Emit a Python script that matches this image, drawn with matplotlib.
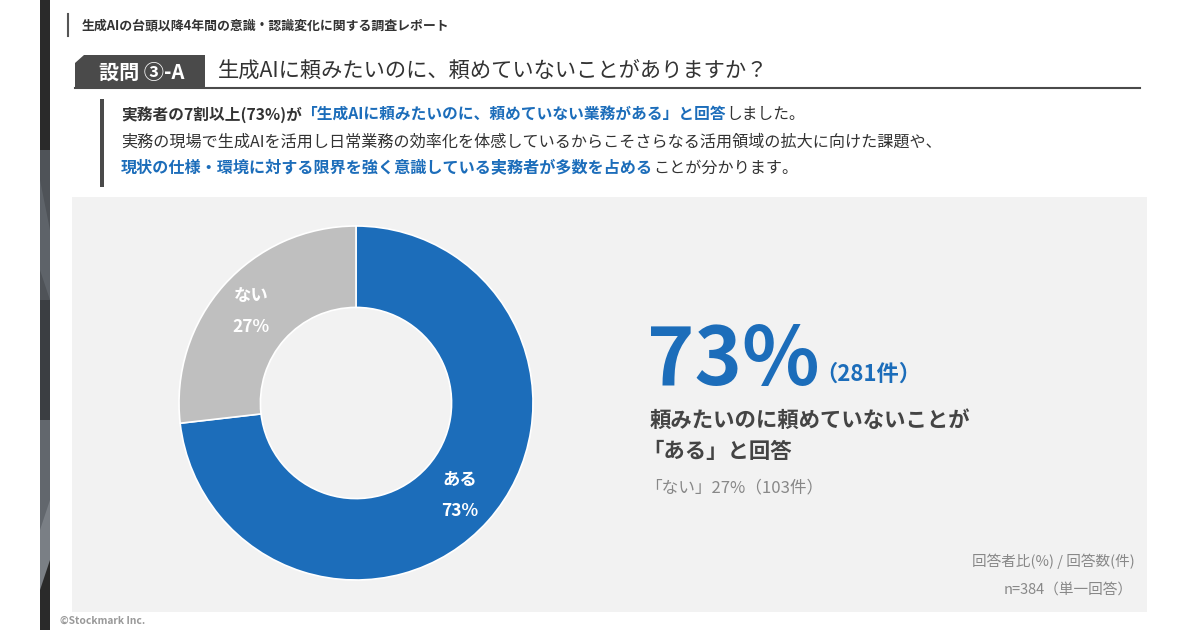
import matplotlib
matplotlib.use("Agg")
import matplotlib.pyplot as plt
from matplotlib.patches import Rectangle, Polygon

plt.rcParams['font.family'] = ['Noto Sans CJK JP', 'DejaVu Sans']

# データ
labels = ['ある', 'ない']
counts = [281, 103]
percents = [73, 27]
n_total = 384
colors = ['#1c6dba', '#bfbfbf']

BLUE = '#1c6dba'
DARK = '#333333'
GRAY = '#888888'

fig = plt.figure(figsize=(12, 6.3), dpi=100)
fig.patch.set_facecolor('white')
ax = fig.add_axes([0, 0, 1, 1])
ax.set_xlim(0, 1200)
ax.set_ylim(630, 0)
ax.axis('off')
renderer = fig.canvas.get_renderer()

# 左の装飾バー
stripe = [('#2a2a2a', 0, 150), ('#4f5358', 150, 300), ('#3b3e42', 300, 420),
          ('#62676d', 420, 530), ('#2a2a2a', 530, 630)]
for c, y0, y1 in stripe:
    ax.add_patch(Rectangle((40, y0), 10, y1 - y0, color=c, lw=0))
ax.add_patch(Polygon([[40, 180], [50, 230], [50, 300], [40, 270]], color='#5e6369', lw=0))
ax.add_patch(Polygon([[40, 530], [50, 500], [50, 560], [40, 590]], color='#7a7f85', lw=0))

# ヘッダー
ax.plot([68, 68], [14, 36], color='#555555', lw=1.5)
ax.text(82, 25, '生成AIの台頭以降4年間の意識・認識変化に関する調査レポート',
        fontsize=9.3, fontweight='bold', color=DARK, va='center')

# 設問タブ
ax.add_patch(Polygon([[75, 88], [75, 63], [84, 55], [205, 55], [205, 88]],
                     color='#4a4a4a', lw=0))
ax.text(142, 72, '設問 ③-A', fontsize=14.5, fontweight='bold', color='white',
        ha='center', va='center')
ax.plot([75, 1140], [88, 88], color='#4a4a4a', lw=1.5)
ax.text(218, 71, '生成AIに頼みたいのに、頼めていないことがありますか？',
        fontsize=15.3, color=DARK, va='center')

# 説明文
ax.add_patch(Rectangle((100, 99), 4, 88, color='#4a4a4a', lw=0))


def rich(x, y, parts, size=11.3):
    for s, c, w in parts:
        t = ax.text(x, y, s, fontsize=size, color=c, fontweight=w, va='center')
        x += t.get_window_extent(renderer).width


rich(121, 115, [('実務者の7割以上(73%)が', DARK, 'bold'),
                ('「生成AIに頼みたいのに、頼めていない業務がある」と回答', BLUE, 'bold'),
                ('しました。', DARK, 'normal')])
rich(121, 142, [('実務の現場で生成AIを活用し日常業務の効率化を体感しているからこそさらなる活用領域の拡大に向けた課題や、',
                 DARK, 'normal')], size=11.6)
rich(121, 168, [('現状の仕様・環境に対する限界を強く意識している実務者が多数を占める', BLUE, 'bold'),
                ('ことが分かります。', DARK, 'normal')], size=11.6)

# グレーのパネル
ax.add_patch(Rectangle((72, 197), 1075, 415, color='#f2f2f2', lw=0))

# ドーナツグラフ
cx, cy, r = 356, 403, 177
pax = fig.add_axes([(cx - r) / 1200, (630 - cy - r) / 630, 2 * r / 1200, 2 * r / 630])
pax.pie(counts, colors=colors, startangle=90, counterclock=False, radius=1,
        wedgeprops=dict(width=0.46, edgecolor='white', linewidth=1.2))
pax.set_xlim(-1, 1)
pax.set_ylim(-1, 1)
pax.set_aspect('equal')
pax.axis('off')

lab_style = dict(fontsize=12.5, fontweight='bold', color='white', ha='center',
                 va='center', transform=ax.transData, clip_on=False)
pax.text(251, 296, labels[1], **lab_style)
pax.text(251, 327, f'{percents[1]}%', **lab_style)
pax.text(460, 480, labels[0], **lab_style)
pax.text(460, 511, f'{percents[0]}%', **lab_style)

# 右側のテキスト
ax.text(647, 385, f'{percents[0]}%', fontsize=58, fontweight='bold', color=BLUE,
        va='baseline')
ax.text(815, 381, f'（{counts[0]}件）', fontsize=16, fontweight='bold', color=BLUE,
        va='baseline')
ax.text(650, 420, '頼みたいのに頼めていないことが', fontsize=15.4, fontweight='bold',
        color='#444444', va='center')
ax.text(642, 452, '「ある」と回答', fontsize=15.4, fontweight='bold', color='#444444', va='center')
ax.text(645, 488, f'「{labels[1]}」{percents[1]}%（{counts[1]}件）', fontsize=12,
        color=GRAY, va='center')

ax.text(1135, 561, '回答者比(%) / 回答数(件)', fontsize=10.5, color=GRAY, ha='right', va='center')
ax.text(1133, 590, f'n={n_total}（単一回答）', fontsize=10.5, color=GRAY, ha='right', va='center')

ax.text(60, 621, '©Stockmark Inc.', fontsize=7.4, fontweight='bold', color='#999999', va='center')

fig.savefig('out.png', dpi=100)
